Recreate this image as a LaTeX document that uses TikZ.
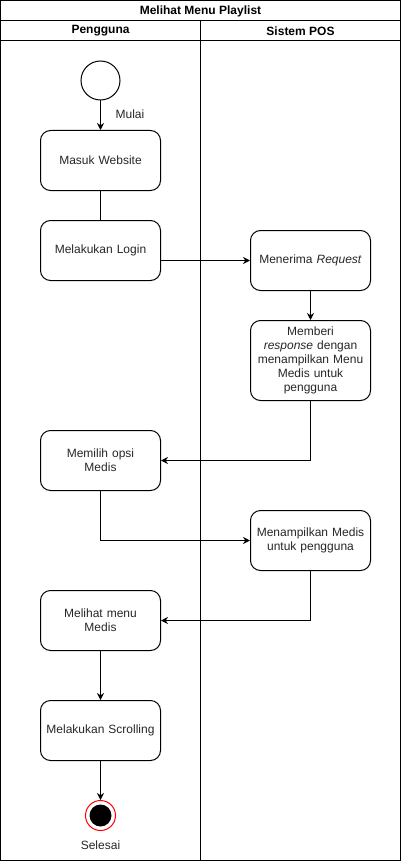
\documentclass[tikz,border=0pt]{standalone}
\usepackage{fontspec}
\setmainfont{Liberation Sans}
\usetikzlibrary{arrows.meta}
\begin{document}
\begin{tikzpicture}[x=1pt,y=-1pt,
  every node/.style={font=\fontsize{12}{14}\selectfont, text=black!85},
  act/.style={draw, line width=1pt, rounded corners=10pt, minimum width=120pt, minimum height=60pt, align=center, inner sep=2pt, text width=114pt},
  conn/.style={line width=1pt, -{Stealth[length=7pt,width=7pt]}},
  plain/.style={line width=1pt},
  frame/.style={draw, line width=1pt}
]
\useasboundingbox (0,0) rectangle (401,861);
% swimlane frame
\draw[frame] (0.5,0.5) rectangle (400.5,860.5);
\draw[plain] (0.5,20.5) -- (400.5,20.5);
\draw[plain] (0.5,40.5) -- (400.5,40.5);
\draw[plain] (200.5,20.5) -- (200.5,860.5);
\node[font=\fontsize{12}{14}\selectfont\bfseries, text=black] (title) at (200.5,11) {Melihat Menu Playlist};
\node[font=\fontsize{12}{14}\selectfont\bfseries, text=black] (lane1) at (100.5,31) {Pengguna};
\node[font=\fontsize{12}{14}\selectfont\bfseries, text=black] (lane2) at (300.5,31) {Sistem POS};

% start
\node[draw, circle, line width=1pt, minimum size=39pt, inner sep=0pt] (start) at (100.5,80.5) {};
\node (mulai) at (130,114) {Mulai};

\node[act] (masuk) at (100.5,160.5) {Masuk Website};
\node[act] (login) at (100.5,250.5) {Melakukan Login};
\node[act] (terima) at (310.5,260.5) {Menerima \textit{Request}};
\node[act, minimum height=80pt] (beri) at (310.5,360.5) {Memberi\\\textit{response} dengan\\menampilkan Menu\\Medis untuk\\pengguna};
\node[act] (pilih) at (100.5,460.5) {Memilih opsi\\Medis};
\node[act] (tampil) at (310.5,540.5) {Menampilkan Medis\\untuk pengguna};
\node[act] (lihat) at (100.5,620.5) {Melihat menu\\Medis};
\node[act] (scroll) at (100.5,730.5) {Melakukan Scrolling};

% end
\node[draw=red, circle, line width=1pt, minimum size=30pt, inner sep=0pt] (end) at (100.5,815.5) {};
\node[fill=black, circle, minimum size=22pt, inner sep=0pt] (endin) at (100.5,815.5) {};
\node (selesai) at (100.5,845) {Selesai};

% connectors
\draw[conn] (start) -- (masuk);
\draw[plain] (masuk) -- (login);
\draw[conn] (login.east |- terima.west) -- (terima.west);
\draw[conn] (terima) -- (beri);
\draw[conn] (beri.south) |- (pilih.east);
\draw[conn] (pilih.south) |- (tampil.west);
\draw[conn] (tampil.south) |- (lihat.east);
\draw[conn] (lihat) -- (scroll);
\draw[conn] (scroll) -- (end);
\end{tikzpicture}
\end{document}
